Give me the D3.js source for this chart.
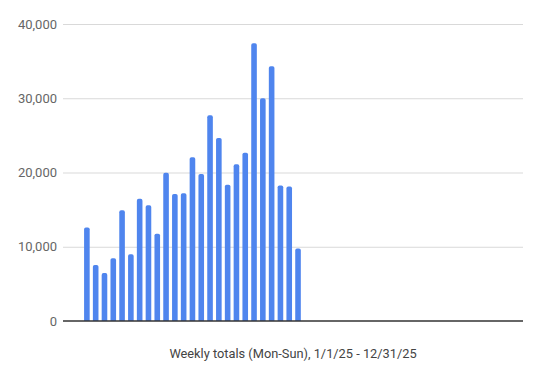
<!DOCTYPE html>
<html>
<head>
<meta charset="utf-8">
<script src="https://cdn.jsdelivr.net/npm/d3@7"></script>
<style>
  body { margin: 0; background: #fff; }
  svg { display: block; font-family: Roboto, "Noto Sans", sans-serif; }
</style>
</head>
<body>
<svg id="chart" width="540" height="372"></svg>
<script>
// week start dates (Mon) and weekly totals
const weekStarts = [
  "2025-01-20", "2025-01-27", "2025-02-03", "2025-02-10", "2025-02-17",
  "2025-02-24", "2025-03-03", "2025-03-10", "2025-03-17", "2025-03-24",
  "2025-03-31", "2025-04-07", "2025-04-14", "2025-04-21", "2025-04-28",
  "2025-05-05", "2025-05-12", "2025-05-19", "2025-05-26", "2025-06-02",
  "2025-06-09", "2025-06-16", "2025-06-23", "2025-06-30", "2025-07-07"
]
const weeklyTotals = [
  12600, 7550, 6450, 8450, 14900,
  9000, 16450, 15600, 11750, 19950,
  17100, 17200, 22050, 19800, 27700,
  24650, 18350, 21100, 22650, 37400,
  30000, 34300, 18250, 18100, 9750
]
const yTicks = [0, 10000, 20000, 30000, 40000]
const xTitle = "Weekly totals (Mon-Sun), 1/1/25 - 12/31/25"

const margin = { left: 63, right: 17, top: 24, bottom: 51 }
const width = 540 - margin.left - margin.right,
      height = 372 - margin.top - margin.bottom

const parse = d3.timeParse("%Y-%m-%d")
const data = weekStarts.map((d, i) => ({ date: parse(d), value: weeklyTotals[i] }))

const svg = d3.select("#chart")
const g = svg.append("g")
    .attr("transform", "translate(" + margin.left + "," + margin.top + ")")

const x = d3.scaleTime()
    .domain([parse("2025-01-01"), parse("2026-01-02")])
    .range([0, width])

const y = d3.scaleLinear()
    .domain([0, 40000])
    .range([height, 0])

// gridlines + labels
const yAxis = g.append("g")
    .call(d3.axisLeft(y).tickValues(yTicks).tickSize(-width).tickPadding(6)
        .tickFormat(d3.format(",")))
yAxis.select(".domain").remove()
yAxis.selectAll(".tick line")
    .attr("stroke", d => d === 0 ? "none" : "#d9d9d9")
    .attr("stroke-width", 1)
yAxis.selectAll(".tick text")
    .attr("fill", "#666")
    .style("font-size", "13px")
    .style("font-family", "Roboto, sans-serif")

// bars, rounded on top
const bw = 5.6, r = 1.8
g.selectAll("path.bar")
    .data(data)
    .enter()
    .append("path")
    .attr("class", "bar")
    .attr("fill", "#4f85ee")
    .attr("d", d => {
        const x0 = x(d.date) - bw / 2, x1 = x0 + bw
        const yt = y(d.value), yb = y(0)
        return "M" + x0 + "," + yb +
            "V" + (yt + r) +
            "Q" + x0 + "," + yt + " " + (x0 + r) + "," + yt +
            "H" + (x1 - r) +
            "Q" + x1 + "," + yt + " " + x1 + "," + (yt + r) +
            "V" + yb + "Z"
    })

// baseline
g.append("line")
    .attr("x1", 0).attr("x2", width)
    .attr("y1", y(0)).attr("y2", y(0))
    .attr("stroke", "#333")
    .attr("stroke-width", 1.4)

g.append("text")
    .attr("x", width / 2)
    .attr("y", height + 37)
    .attr("text-anchor", "middle")
    .attr("fill", "#444")
    .style("font-size", "12.8px")
    .text(xTitle)
</script>
</body>
</html>
